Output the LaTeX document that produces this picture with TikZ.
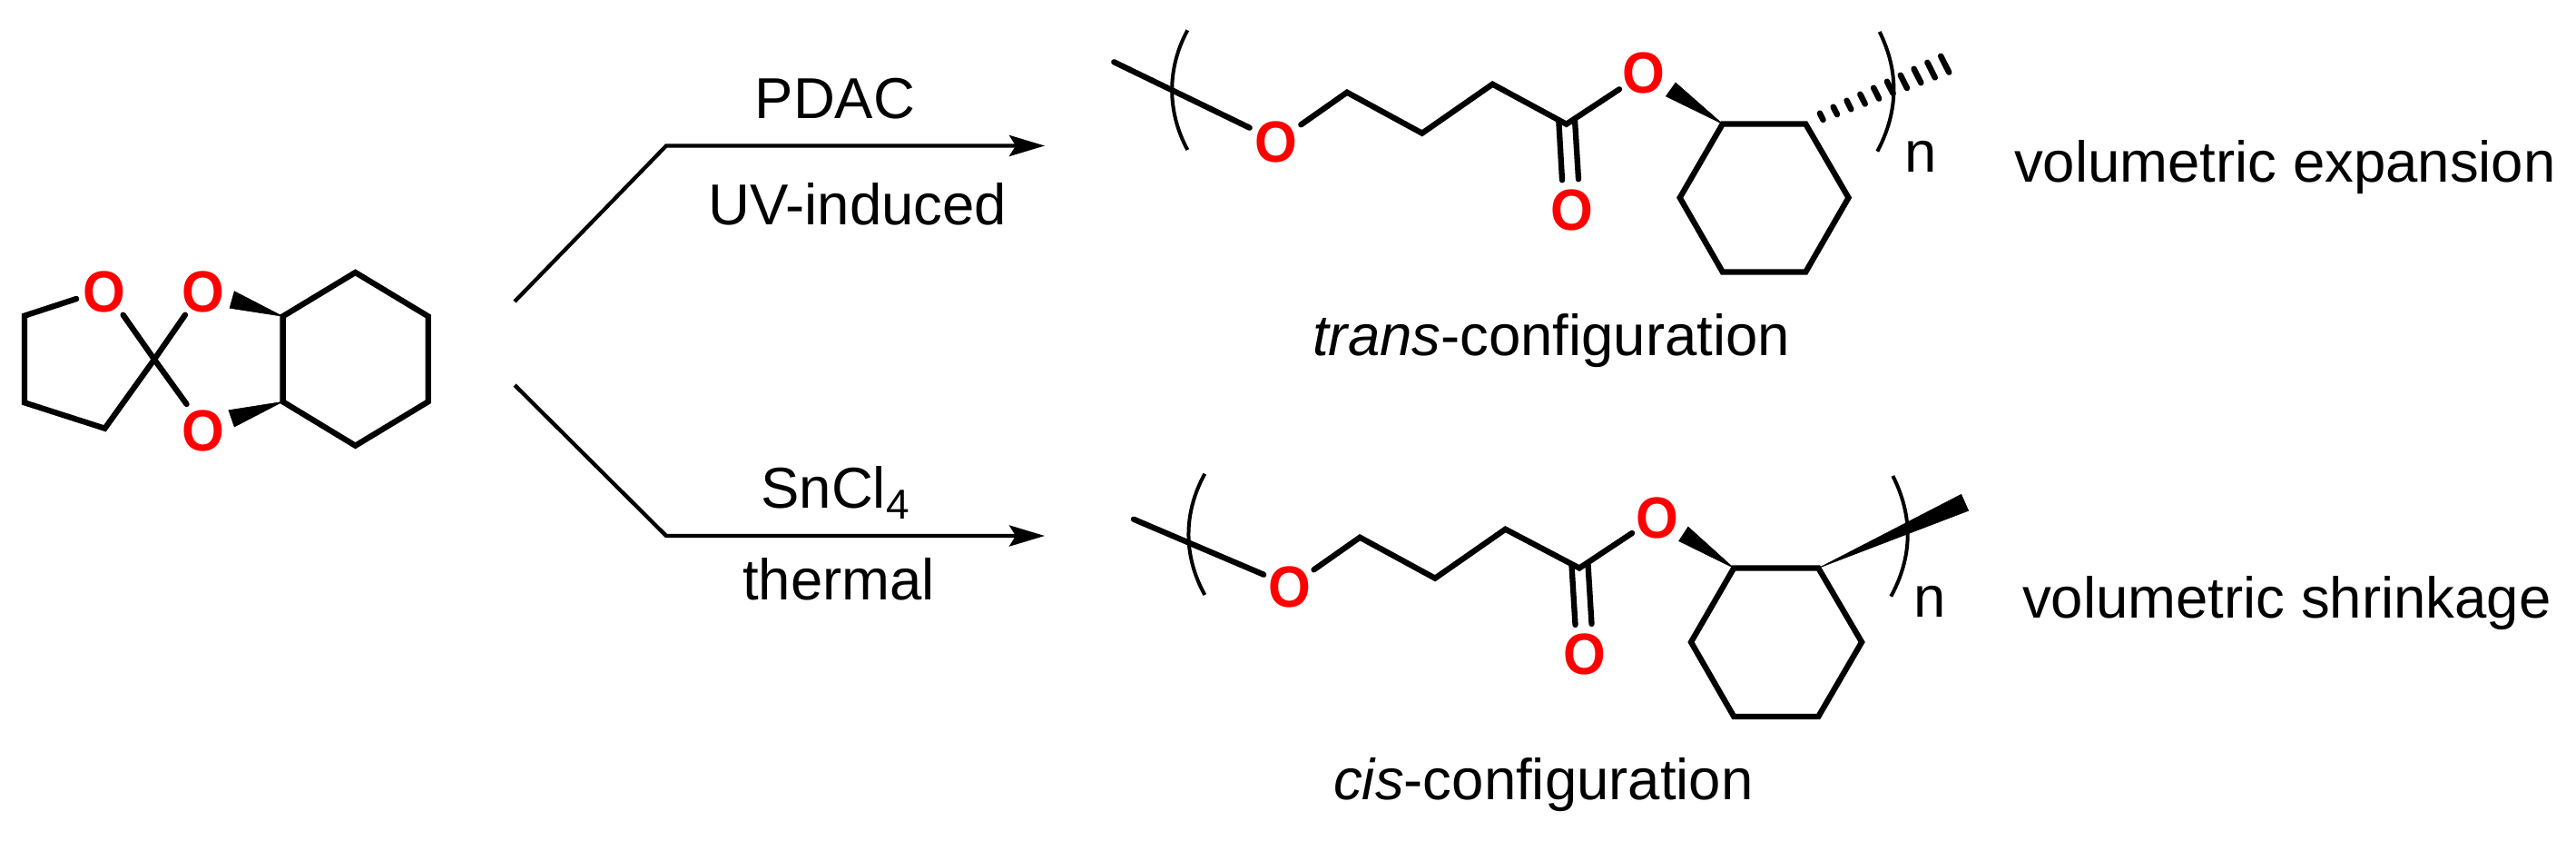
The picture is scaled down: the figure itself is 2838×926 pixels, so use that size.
\documentclass[tikz,border=0pt]{standalone}
\usepackage{fontspec}
\setmainfont{Liberation Sans}
\usetikzlibrary{arrows.meta}
\newcommand{\oxy}{\scalebox{0.94}[1]{O}}
\tikzset{
  bond/.style={line width=6.3pt,line cap=round,line join=miter,black},
  wedgeb/.style={fill=black,draw=black,line width=0.5pt,line join=miter},
  atom/.style={text=red,inner sep=0pt,font=\fontsize{64}{64}\selectfont\bfseries},
  lbl/.style={inner sep=0pt,anchor=base,font=\fontsize{63.5}{70}\selectfont},
  rarrow/.style={line width=4.3pt,line join=miter,-{Stealth[length=39pt,width=23pt,inset=7pt]}},
  thinbr/.style={line width=4pt,line cap=butt},
  hashd/.style={line width=6.5pt,line cap=round}
}
\begin{document}
\begin{tikzpicture}[x=1pt,y=-1pt]
\useasboundingbox (0,0) rectangle (2838,926);
% ---- left molecule
\node[atom] (O1) at (114.7,321.7) {\oxy};
\node[atom] (O2) at (223.8,321.7) {\oxy};
\node[atom] (O3) at (223.8,474) {\oxy};
\coordinate (La) at (84.2,329);
\coordinate (Lb) at (26.9,347.7);
\coordinate (Lc) at (26.9,443.3);
\coordinate (Ld) at (115.5,471.7);
\coordinate (Ls) at (170,395.7);
\coordinate (Le1) at (135.6,346.7);
\coordinate (Le2) at (204,346.7);
\coordinate (Le3) at (205.6,445);
\coordinate (H1) at (311.6,348.3);
\coordinate (H2) at (391.5,300);
\coordinate (H3) at (471.7,348.3);
\coordinate (H4) at (471.7,442.3);
\coordinate (H5) at (391.5,490.7);
\coordinate (H6) at (311.6,442.3);
\coordinate (W1a) at (258.2,320.7);
\coordinate (W1b) at (253,339.3);
\coordinate (W2a) at (251.9,451.7);
\coordinate (W2b) at (258.2,470);
\draw[bond] (La) -- (Lb) -- (Lc) -- (Ld) -- (Ls) -- (Le1);
\draw[bond] (Ls) -- (Le2);
\draw[bond] (Ls) -- (Le3);
\draw[bond] (H1) -- (H2) -- (H3) -- (H4) -- (H5) -- (H6) -- cycle;
\fill[wedgeb] (H1) -- (W1a) -- (W1b) -- cycle;
\fill[wedgeb] (H6) -- (W2a) -- (W2b) -- cycle;
% ---- arrows
\coordinate (As1) at (567,332);
\coordinate (Ac1) at (734,160.5);
\coordinate (At1) at (1151,160.5);
\coordinate (As2) at (567,424);
\coordinate (Ac2) at (734,590);
\coordinate (At2) at (1151,590);
\draw[rarrow] (As1) -- (Ac1) -- (At1);
\draw[rarrow] (As2) -- (Ac2) -- (At2);
\node[lbl] (pdac) at (920,130.5) {PDAC};
\node[lbl] (uv) at (945,247.5) {UV-induced};
\node[lbl] (sn) at (920,559) {SnCl\raisebox{-12pt}{\fontsize{46}{46}\selectfont 4}};
\node[lbl] (th) at (924,660) {thermal};
% ---- trans polymer
\node[atom] (tO1) at (1406,156.7) {\oxy};
\node[atom] (tO2) at (1811,80.7) {\oxy};
\node[atom] (tO3) at (1732,231.7) {\oxy};
\coordinate (t0) at (1227.3,68.3);
\coordinate (t1) at (1376.7,140.7);
\coordinate (t2) at (1433.3,137.3);
\coordinate (t3) at (1484,101.7);
\coordinate (t4) at (1566.7,146.7);
\coordinate (t5) at (1644.3,92.7);
\coordinate (tC) at (1725.7,136.7);
\coordinate (t6) at (1784,98.3);
\coordinate (td1) at (1717.3,133.3);
\coordinate (td2) at (1721,198.3);
\coordinate (td3) at (1735,131.7);
\coordinate (td4) at (1739,197.3);
\coordinate (tw1) at (1846,91);
\coordinate (tw2) at (1835.3,106);
\coordinate (tr1) at (1897.8,136.5);
\coordinate (tr2) at (1989.3,136.5);
\coordinate (tr3) at (2036.5,217.7);
\coordinate (tr4) at (1989.3,299.5);
\coordinate (tr5) at (1897.8,299.5);
\coordinate (tr6) at (1850.7,217.7);
\draw[bond] (t0) -- (t1);
\draw[bond] (t2) -- (t3) -- (t4) -- (t5) -- (tC) -- (t6);
\draw[bond] (td1) -- (td2);
\draw[bond] (td3) -- (td4);
\draw[bond] (tr1) -- (tr2) -- (tr3) -- (tr4) -- (tr5) -- (tr6) -- cycle;
\fill[wedgeb] (tr1) -- (tw1) -- (tw2) -- cycle;
\foreach \i in {0,...,9}{
  \draw[hashd] ({2006.7+15.11*\i-1.8-0.3*\i},{128.3-6.4*\i-3.6-0.59*\i})
    -- ({2006.7+15.11*\i+1.8+0.3*\i},{128.3-6.4*\i+3.6+0.59*\i});
}
\coordinate (tbl1) at (1308.3,33.3);
\coordinate (tbl2) at (1308.3,165);
\coordinate (tbr1) at (2070.7,35);
\coordinate (tbr2) at (2068.3,166.7);
\draw[thinbr] (tbl1) .. controls (1285.5,75) and (1285.5,123) .. (tbl2);
\draw[thinbr] (tbr1) .. controls (2092,78) and (2092,122) .. (tbr2);
\node[lbl] (tn) at (2116.5,189.3) {n};
\node[lbl,anchor=base west] (tlab) at (1446,391) {\itshape trans\upshape-configuration};
\node[lbl,anchor=base west] (tvol) at (2219,200) {volumetric expansion};
% ---- cis polymer
\node[atom] (cO1) at (1421,646.7) {\oxy};
\node[atom] (cO2) at (1825.4,570.7) {\oxy};
\node[atom] (cO3) at (1745.7,720.7) {\oxy};
\coordinate (c0) at (1248.9,571.7);
\coordinate (c1) at (1392.3,632.7);
\coordinate (c2) at (1447.5,627.3);
\coordinate (c3) at (1498.2,591.7);
\coordinate (c4) at (1581,636.7);
\coordinate (c5) at (1658.5,582.7);
\coordinate (cC) at (1740,625.5);
\coordinate (c6) at (1798,587);
\coordinate (cd1) at (1731.5,622.5);
\coordinate (cd2) at (1735.5,688);
\coordinate (cd3) at (1749.5,621);
\coordinate (cd4) at (1753.5,687);
\coordinate (cw1) at (1859.8,580);
\coordinate (cw2) at (1849.6,595.7);
\coordinate (cr1) at (1910.2,625.5);
\coordinate (cr2) at (2003.3,625.5);
\coordinate (cr3) at (2051.1,707);
\coordinate (cr4) at (2003.3,789);
\coordinate (cr5) at (1910.2,789);
\coordinate (cr6) at (1863,707);
\coordinate (cx1) at (2160.7,544.3);
\coordinate (cx2) at (2168.7,562.3);
\draw[bond] (c0) -- (c1);
\draw[bond] (c2) -- (c3) -- (c4) -- (c5) -- (cC) -- (c6);
\draw[bond] (cd1) -- (cd2);
\draw[bond] (cd3) -- (cd4);
\draw[bond] (cr1) -- (cr2) -- (cr3) -- (cr4) -- (cr5) -- (cr6) -- cycle;
\fill[wedgeb] (cr1) -- (cw1) -- (cw2) -- cycle;
\fill[wedgeb] (cr2) -- (cx1) -- (cx2) -- cycle;
\coordinate (cbl1) at (1327.3,521.7);
\coordinate (cbl2) at (1327.3,655);
\coordinate (cbr1) at (2085.3,524);
\coordinate (cbr2) at (2083.3,656.7);
\draw[thinbr] (cbl1) .. controls (1303.5,565) and (1303.5,612) .. (cbl2);
\draw[thinbr] (cbr1) .. controls (2107.5,568) and (2107.5,612) .. (cbr2);
\node[lbl] (cn) at (2126.5,679) {n};
\node[lbl,anchor=base west] (clab) at (1469,880) {\itshape cis\upshape-configuration};
\node[lbl,anchor=base west] (cvol) at (2228,680) {volumetric shrinkage};
\end{tikzpicture}
\end{document}
